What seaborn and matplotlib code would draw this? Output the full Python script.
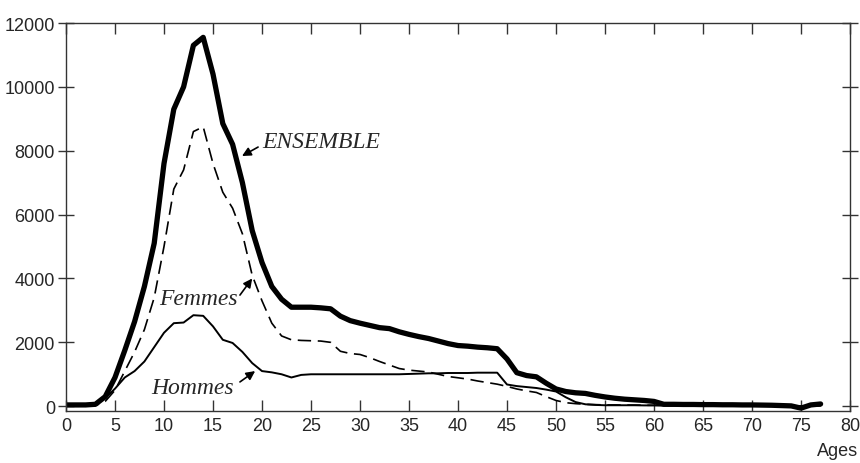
import matplotlib
matplotlib.use('Agg')
import matplotlib.pyplot as plt
import seaborn as sns
import pandas as pd

# Data (one value per year of age)
ages = list(range(0, 78))

ensemble = [40, 40, 40, 60, 300, 900, 1750, 2650, 3750, 5100,
            7600, 9300, 10000, 11300, 11550, 10400, 8850, 8200, 7000, 5500,
            4500, 3750, 3350, 3100, 3100, 3100, 3080, 3050, 2820, 2680,
            2600, 2530, 2460, 2430, 2330, 2250, 2180, 2120, 2040, 1960,
            1900, 1880, 1850, 1830, 1800, 1480, 1050, 960, 920, 720,
            540, 460, 420, 400, 340, 290, 250, 220, 200, 180,
            150, 60, 60, 55, 55, 50, 50, 45, 45, 40,
            40, 35, 30, 20, 10, -60, 40, 70]

femmes = [0, 0, 0, 20, 150, 500, 1100, 1700, 2400, 3400,
          5000, 6800, 7400, 8600, 8750, 7600, 6700, 6200, 5400, 4100,
          3300, 2600, 2200, 2080, 2060, 2050, 2040, 2000, 1720, 1650,
          1620, 1520, 1400, 1290, 1180, 1130, 1100, 1070, 1000, 930,
          890, 850, 790, 740, 690, 620, 540, 480, 430, 300,
          180, 110, 80, 60, 50, 40, 40, 35, 35, 30,
          30, 25, 25, 25, 20, 20, 20, 20, 15, 15,
          15, 15, 10, 10, 10, 0, 10, 20]

hommes = [20, 20, 20, 40, 250, 550, 900, 1100, 1400, 1850,
          2300, 2600, 2620, 2850, 2830, 2500, 2080, 1980, 1700, 1350,
          1100, 1060, 1000, 900, 980, 1000, 1000, 1000, 1000, 1000,
          1000, 1000, 1000, 1000, 1000, 1010, 1020, 1030, 1030, 1040,
          1040, 1040, 1050, 1050, 1050, 680, 630, 600, 570, 520,
          460, 280, 130, 60, 40, 30, 30, 30, 30, 25,
          25, 20, 20, 20, 20, 20, 20, 20, 15, 15,
          15, 15, 10, 10, 10, 0, 10, 20]

df = pd.DataFrame({'Age': ages, 'Ensemble': ensemble,
                   'Femmes': femmes, 'Hommes': hommes})

sns.set_style('ticks')
plt.rcParams['font.family'] = ['Liberation Sans', 'DejaVu Sans']

fig = plt.figure(figsize=(8.6, 4.64), dpi=100)
ax = fig.add_axes([66 / 860, 1 - 412 / 464, (850 - 66) / 860, (412 - 24) / 464])

sns.lineplot(data=df, x='Age', y='Hommes', ax=ax, color='black', linewidth=1.4,
             solid_joinstyle='round')
sns.lineplot(data=df, x='Age', y='Femmes', ax=ax, color='black', linewidth=1.2,
             dashes=False, linestyle=(0, (8, 4)))
sns.lineplot(data=df, x='Age', y='Ensemble', ax=ax, color='black', linewidth=3.8,
             solid_joinstyle='round', solid_capstyle='round')

ax.set_xlim(0, 80)
ax.set_ylim(-150, 12000)
ax.set_xticks(range(0, 81, 5))
ax.set_yticks(range(0, 12001, 2000))
ax.set_xlabel('')
ax.set_ylabel('')

ax.tick_params(axis='both', direction='in', length=8, width=1, color='#333333',
               labelsize=13, top=True, right=True, pad=4)
ax.tick_params(axis='y', direction='inout', length=12, pad=2)
for s in ax.spines.values():
    s.set_linewidth(1.0)
    s.set_color('#333333')

# Curve labels with arrows
txt_style = dict(family=['Liberation Serif', 'DejaVu Serif'], style='italic', fontsize=17,
                 va='center', ha='left')
arrow = dict(arrowstyle='-|>', color='black', lw=1.2, mutation_scale=13, shrinkA=0, shrinkB=0)

ax.text(20.0, 8300, 'ENSEMBLE', **txt_style)
ax.annotate('', xy=(17.96, 7835), xytext=(19.6, 8115), arrowprops=arrow)

ax.text(9.5, 3360, 'Femmes', **txt_style)
ax.annotate('', xy=(19.0, 4000), xytext=(17.75, 3480), arrowprops=arrow)

ax.text(8.7, 600, 'Hommes', **txt_style)
ax.annotate('', xy=(19.3, 1100), xytext=(17.75, 760), arrowprops=arrow)

fig.text(0.998, 1 - 452 / 464, 'Ages', ha='right', va='center', fontsize=13)

fig.savefig('out.png', dpi=100, facecolor='white')
